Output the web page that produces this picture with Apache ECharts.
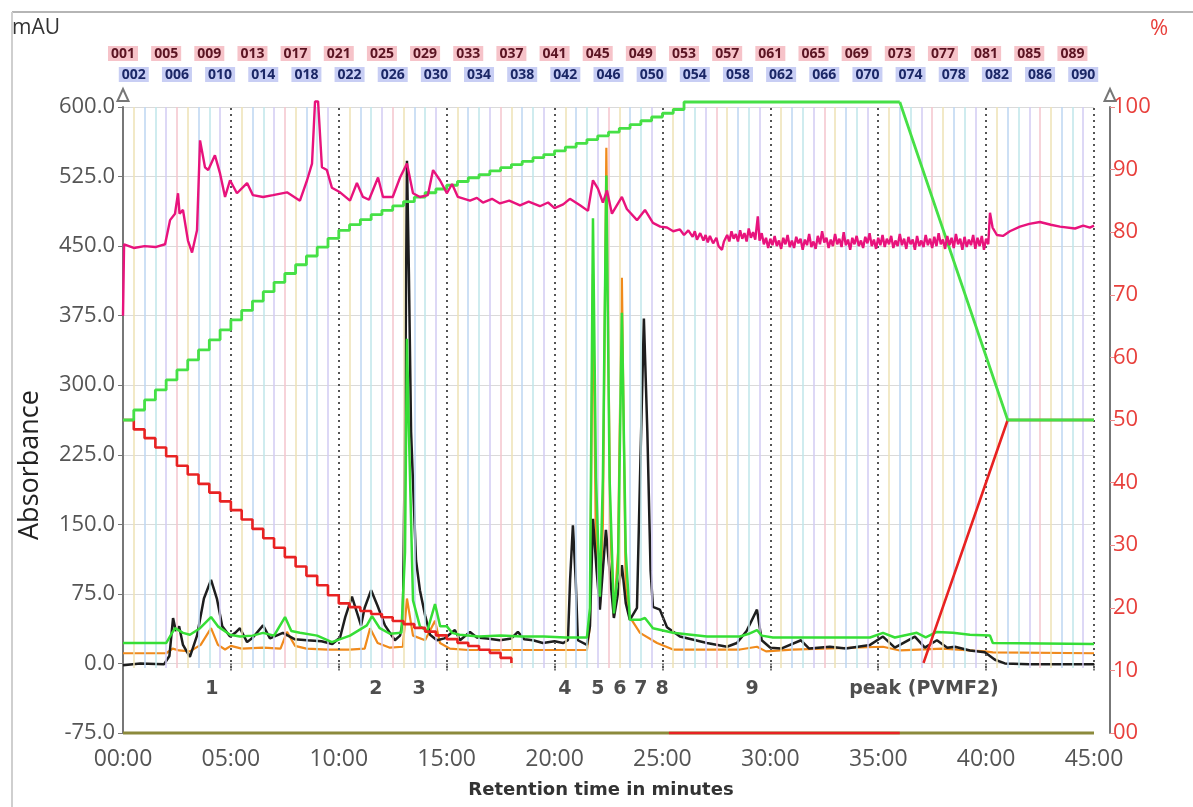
<!DOCTYPE html>
<html>
<head>
<meta charset="utf-8">
<title>Chromatogram</title>
<script src="https://cdn.jsdelivr.net/npm/echarts@6/dist/echarts.min.js"></script>
<style>
  html, body { margin: 0; padding: 0; background: #fff; }
  #chart { width: 1193px; height: 807px; }
</style>
</head>
<body>
<div id="chart"></div>
<script>
// --- data (time in minutes, absorbance in mAU, gradient in %) ---
const timeTicks = [0, 5, 10, 15, 20, 25, 30, 35, 40, 45];
const FRACTION_COUNT = 90;
const FRACTION_WIDTH = 0.5;
const fractionLineColors = ['#f4c4cc', '#eee2b4', '#bdd6f2', '#bfe6ea', '#d2cbf3'];

const blackTrace = [[0,-2],[0.8,0],[1.9,-1],[2.15,8],[2.32,49],[2.45,35],[2.6,40],[2.78,20],[3.1,7],[3.43,30],
  [3.75,70],[4.08,90],[4.35,70],[4.6,40],[4.96,29],[5.2,33],[5.42,38],[5.75,23],[6.02,28],[6.49,41],[6.81,27],
  [7.41,33],[7.97,26],[8.53,25],[9.2,24],[9.7,21],[10.06,28],[10.3,50],[10.61,72],[10.84,55],[11.03,41],[11.2,60],
  [11.5,79],[11.8,62],[12.14,41],[12.6,25],[12.84,30],[12.97,45],[13.07,250],[13.16,542],[13.25,420],[13.35,250],
  [13.58,111],[13.76,79],[14.0,52],[14.23,31],[14.55,25],[14.9,27],[15.38,36],[15.62,25],[16.08,34],[16.4,28],
  [16.87,27],[17.47,25],[18.0,27],[18.3,34],[18.6,26],[19.0,25],[19.46,22],[20.0,24],[20.39,22],[20.62,25],
  [20.72,90],[20.85,149],[20.98,90],[21.08,25],[21.5,20],[21.64,40],[21.78,156],[21.95,100],[22.1,58],[22.38,144],
  [22.55,100],[22.75,49],[22.9,70],[23.12,106],[23.3,65],[23.49,47],[23.82,60],[23.96,200],[24.14,372],[24.3,250],
  [24.45,100],[24.56,61],[24.88,58],[25.21,39],[25.81,29],[27.06,22],[27.99,18],[28.45,22],[28.9,35],[29.38,58],
  [29.5,40],[29.6,25],[30.0,17],[30.5,16],[31.42,25],[31.8,16],[32.76,18],[33.5,16],[34.62,20],[35.22,29],
  [35.77,17],[36.7,29],[37.16,17],[37.72,25],[38.2,17],[38.55,18],[39.25,14],[39.94,12],[40.41,4],[40.87,0],
  [42,-1],[45,-1]];

const greenTrace = [[0,22],[2.0,22],[2.2,30],[2.41,38],[2.78,33],[3.1,31],[3.57,38],[4.08,50],[4.4,40],[4.96,31],
  [5.42,29],[6.0,30],[6.49,33],[7.0,30],[7.51,50],[7.8,35],[8.2,33],[9.0,30],[9.68,23],[10.52,30],[11.3,41],
  [11.54,51],[11.9,38],[12.37,32],[12.9,33],[13.07,120],[13.16,350],[13.25,250],[13.44,68],[13.76,40],[14.1,35],
  [14.46,64],[14.7,40],[15.01,40],[15.25,33],[15.6,31],[16.5,29],[17.5,30],[18.5,29],[19.5,29],[20.5,28],[21.5,28],
  [21.64,60],[21.78,480],[21.92,200],[22.1,72],[22.24,200],[22.4,526],[22.55,200],[22.75,54],[22.94,100],[23.12,378],
  [23.3,120],[23.49,47],[23.96,47],[24.19,49],[24.56,38],[25.49,33],[27.06,29],[28.59,29],[29.0,32],[29.38,36],
  [29.6,30],[30.12,28],[34.62,28],[35.22,33],[35.77,28],[36.79,33],[37.2,28],[37.72,34],[38.46,33],[39.25,31],
  [40.18,30],[40.31,22],[45,21]];

const orangeTrace = [[0,11],[2.0,11],[2.3,16],[2.6,14],[3.1,13],[3.6,20],[4.08,38],[4.4,20],[4.73,15],[5.0,19],
  [5.5,16],[6.5,17],[7.3,16],[7.6,34],[7.97,19],[8.5,16],[9.5,15],[10.5,15],[11.2,16],[11.45,38],[11.8,22],
  [12.37,17],[12.97,18],[13.16,70],[13.44,30],[14.0,25],[14.46,46],[14.69,22],[15.15,16],[16,14.5],[21.5,14.5],
  [21.64,40],[21.78,420],[21.92,120],[22.1,60],[22.24,150],[22.4,556],[22.58,150],[22.75,50],[22.94,120],[23.12,416],
  [23.3,80],[23.49,50],[23.96,33],[24.75,22],[25.49,15],[28.59,15],[29.38,18],[29.8,13],[31,15],[35.22,18],[36,14],
  [38,16],[39.94,13],[40.31,12],[45,11]];

const pinkTrace = [[0,375],[0.05,452],[0.5,448],[1.0,450],[1.5,449],[1.95,452],[2.18,478],[2.41,485],[2.55,507],
  [2.62,485],[2.78,489],[3.01,456],[3.2,443],[3.43,467],[3.57,564],[3.8,535],[3.95,532],[4.26,548],[4.49,529],
  [4.73,503],[4.96,521],[5.28,507],[5.75,518],[6.02,505],[6.49,503],[6.95,505],[7.6,508],[8.2,499],[8.53,521],
  [8.76,539],[8.9,606],[9.04,606],[9.22,535],[9.45,532],[9.68,513],[10.06,508],[10.52,499],[10.84,518],[11.12,503],
  [11.4,500],[11.82,524],[12.05,503],[12.5,503],[12.84,524],[13.16,539],[13.44,507],[13.76,503],[14.13,505],
  [14.37,532],[14.69,521],[15.01,507],[15.25,517],[15.52,503],[16.08,499],[16.4,502],[16.68,497],[17.1,501],
  [17.47,496],[17.9,499],[18.4,494],[18.8,498],[19.32,493],[19.7,497],[20.0,491],[20.4,495],[20.71,501],[21.18,494],
  [21.55,488],[21.78,521],[22.01,512],[22.24,497],[22.43,510],[22.66,485],[23.12,503],[23.35,490],[23.82,478],
  [24.19,489],[24.56,475],[24.9,471],[25.21,470],[25.5,466],[25.81,468],[26.0,462],[26.2,467],[26.4,460],[26.5,466],
  [26.6,457],[26.75,464],[26.9,456],[27.0,462],[27.1,454],[27.2,461],[27.35,453],[27.5,459],[27.6,450],[27.76,446],
  [27.85,455],[28.0,462],[28.1,455],[28.2,466],[28.3,458],[28.4,463],[28.5,455],[28.6,467],[28.7,458],[28.8,464],
  [28.9,455],[29.0,469],[29.1,459],[29.2,465],[29.3,457],[29.42,482],[29.5,456],[29.6,464],[29.7,452],[29.8,459],
  [29.9,448],[30.0,458],[30.1,451],[30.2,461],[30.3,450],[30.4,456],[30.5,447],[30.6,459],[30.7,452],[30.8,462],
  [30.9,449],[31.0,456],[31.1,448],[31.2,460],[31.3,453],[31.4,458],[31.5,446],[31.6,457],[31.7,451],[31.8,463],
  [31.9,449],[32.0,455],[32.1,447],[32.2,461],[32.3,452],[32.4,466],[32.5,454],[32.6,459],[32.7,448],[32.8,457],
  [32.9,450],[33.0,463],[33.1,452],[33.2,458],[33.3,449],[33.4,465],[33.5,451],[33.6,457],[33.7,446],[33.8,459],
  [33.9,452],[34.0,461],[34.1,450],[34.2,456],[34.3,448],[34.4,460],[34.5,453],[34.6,464],[34.7,450],[34.8,457],
  [34.9,447],[35.0,459],[35.1,451],[35.2,462],[35.3,449],[35.4,458],[35.5,452],[35.6,461],[35.7,448],[35.8,456],
  [35.9,450],[36.0,463],[36.1,451],[36.2,458],[36.3,447],[36.4,460],[36.5,452],[36.6,457],[36.7,446],[36.8,461],
  [36.9,450],[37.0,456],[37.1,449],[37.2,462],[37.3,451],[37.4,458],[37.5,448],[37.6,460],[37.7,450],[37.8,464],
  [37.9,452],[38.0,457],[38.1,447],[38.2,461],[38.3,451],[38.4,459],[38.5,448],[38.6,463],[38.7,452],[38.8,458],
  [38.9,446],[39.0,460],[39.1,449],[39.2,457],[39.3,451],[39.4,462],[39.5,447],[39.6,459],[39.7,450],[39.8,461],
  [39.9,446],[40.0,458],[40.1,452],[40.18,486],[40.3,470],[40.5,462],[40.78,461],[41.1,466],[41.57,471],[42.0,474],
  [42.49,476],[43.0,473],[43.42,471],[44.12,469],[44.5,472],[44.81,470],[45,472]];

// gradient %B (green) and %A (red), stepped per fraction, then linear wash
const gradientB = [[0,50],[0.5,51.6],[1,53.2],[1.5,54.8],[2,56.4],[2.5,58],[3,59.6],[3.5,61.2],[4,62.8],[4.5,64.4],
  [5,66],[5.5,67.5],[6,69],[6.5,70.5],[7,72],[7.5,73.4],[8,74.8],[8.5,76.2],[9,77.6],[9.5,79],[10,80.3],[10.5,81.2],
  [11,82],[11.5,82.8],[12,83.5],[12.5,84.2],[13,84.9],[13.5,85.6],[14,86.3],[14.5,86.9],[15,87.5],[15.5,88.1],
  [16,88.7],[16.5,89.2],[17,89.8],[17.5,90.3],[18,90.8],[18.5,91.3],[19,91.9],[19.5,92.4],[20,93],[20.5,93.6],
  [21,94.2],[21.5,94.8],[22,95.4],[22.5,96],[23,96.6],[23.5,97.2],[24,97.8],[24.5,98.4],[25,99],[25.5,99.6],
  [26,100.8],[36,100.8]];
const gradientBRamp = [[36,100.8],[41,50],[45,50]];
const gradientA = [[0,50],[0.5,48.5],[1,47.1],[1.5,45.6],[2,44.2],[2.5,42.7],[3,41.3],[3.5,39.8],[4,38.4],[4.5,37],
  [5,35.6],[5.5,34.1],[6,32.6],[6.5,31.1],[7,29.6],[7.5,28.1],[8,26.6],[8.5,25.1],[9,23.6],[9.5,22],[10,20.7],
  [10.5,20.1],[11,19.5],[11.5,19],[12,18.5],[12.5,17.9],[13,17.4],[13.5,16.8],[14,16.2],[14.5,15.6],[15,15],
  [15.5,14.4],[16,13.9],[16.5,13.3],[17,12.8],[17.5,12],[18,11.2],null,[25.3,0],[36,0]];
const gradientARamp = [[37.1,11.2],[41,50],[45,50]];
const baselineTrace = [[0,-75],[45,-75]];

const peakLabels = [['1',4.12],['2',11.72],['3',13.72],['4',20.48],['5',22.01],['6',23.03],['7',24.0],['8',24.98],
  ['9',29.15],['peak (PVMF2)',37.12]];
const PEAK_LABEL_Y = -28;

// --- helpers ---
const FONT = "'Open Sans', 'Noto Sans', sans-serif";
const BOLD_FONT = "'DejaVu Sans', Verdana, sans-serif";
function mmss(v) { return (v < 10 ? '0' : '') + v + ':00'; }
function pad3(n) { return String(n).padStart(3, '0'); }

const fractionNames = [];
const fractionBounds = [];
for (let i = 0; i <= FRACTION_COUNT; i++) {
  fractionNames.push(i < FRACTION_COUNT ? pad3(i + 1) : '');
  fractionBounds.push(i * FRACTION_WIDTH);
}

// coloured fraction borders + dotted 5 min lines
const fractionLines = [];
fractionBounds.forEach(function (t, i) {
  if (t === 0 || t % 5 === 0) return;
  fractionLines.push([
    { coord: [t, -5], lineStyle: { color: fractionLineColors[i % fractionLineColors.length], width: 1.5, type: 'solid' } },
    { coord: [t, 600] }
  ]);
});
timeTicks.slice(1).forEach(function (t) {
  fractionLines.push([
    { coord: [t, -5], lineStyle: { color: '#555', width: 2, type: [2, 4] } },
    { coord: [t, 600] }
  ]);
});

function trace(name, data, color, width, z, yAxisIndex, step) {
  return {
    name: name, type: 'line', data: data, yAxisIndex: yAxisIndex || 0, z: z,
    showSymbol: false, step: step || false, connectNulls: false, silent: true, clip: false,
    lineStyle: { color: color, width: width }, itemStyle: { color: color }
  };
}

const fractionLabel = function (bg, fg, margin, pick) {
  return {
    type: 'category', data: fractionNames, boundaryGap: false, position: 'top',
    axisLine: { show: false }, axisTick: { show: false }, splitLine: { show: false },
    axisLabel: {
      interval: function (i) { return i % 4 === pick; },
      margin: margin, fontSize: 14, fontWeight: 'bold', color: fg, backgroundColor: bg,
      padding: [1, 3, 0, 3], fontFamily: FONT
    }
  };
};

const chart = echarts.init(document.getElementById('chart'));
chart.setOption({
  animation: false,
  backgroundColor: '#fff',
  grid: { left: 123, right: 99, top: 107, bottom: 74 },
  xAxis: [
    {
      type: 'value', min: 0, max: 45, interval: 5, position: 'bottom',
      axisLine: { show: false },
      axisTick: { show: true, length: 9, lineStyle: { color: '#777', width: 2, type: [2, 3] } },
      axisLabel: { formatter: mmss, color: '#555', fontSize: 23, margin: 15, fontFamily: FONT },
      splitLine: { show: false }
    },
    fractionLabel('#f6c3c9', '#5b1422', 46, 0),
    fractionLabel('#c8cef4', '#1b2766', 25, 1)
  ],
  yAxis: [
    {
      type: 'value', min: -75, max: 600, interval: 75, position: 'left',
      axisLine: { show: true, lineStyle: { color: '#777', width: 2 }, symbol: ['none', 'emptyTriangle'], symbolSize: [11, 12], symbolOffset: [0, 12] },
      axisTick: { show: true, length: 5, lineStyle: { color: '#777' } },
      axisLabel: { formatter: function (v) { return v.toFixed(1); }, color: '#555', fontSize: 22, margin: 8, fontFamily: FONT },
      splitLine: { show: true, lineStyle: { color: '#dadada', width: 1 } }
    },
    {
      type: 'value', min: 0, max: 100, interval: 10, position: 'right', offset: 16,
      axisLine: { show: true, lineStyle: { color: '#777', width: 2 }, symbol: ['none', 'emptyTriangle'], symbolSize: [11, 12], symbolOffset: [0, 12] },
      axisTick: { show: true, length: 5, lineStyle: { color: '#e88' } },
      axisLabel: { formatter: function (v) { return v === 0 ? '00' : String(v); }, color: '#e8403c', fontSize: 22, margin: 3, fontFamily: FONT },
      splitLine: { show: false }
    }
  ],
  series: [
    {
      name: 'fractions', type: 'line', data: [], z: 1, silent: true,
      markLine: { symbol: 'none', silent: true, animation: false, label: { show: false }, data: fractionLines }
    },
    trace('olive', baselineTrace, '#8c8a3c', 3, 2),
    trace('280 nm', orangeTrace, '#f08a1c', 2.2, 3),
    trace('254 nm', blackTrace, '#1e1e1e', 2.5, 4),
    trace('215 nm', greenTrace, '#36de36', 2.5, 5),
    trace('%A', gradientA, '#e82222', 2.6, 6, 1, 'end'),
    trace('%A wash', gradientARamp, '#e82222', 2.6, 6, 1),
    trace('%B', gradientB, '#46e046', 2.8, 6, 1, 'end'),
    trace('%B wash', gradientBRamp, '#46e046', 2.8, 6, 1),
    trace('conductivity', pinkTrace, '#e8137c', 2.4, 7),
    {
      name: 'peaks', type: 'scatter', z: 9, silent: true, symbolSize: 0,
      data: peakLabels.map(function (p) { return { name: p[0], value: [p[1], PEAK_LABEL_Y] }; }),
      label: { show: true, position: 'inside', formatter: '{b}', color: '#222', fontSize: 19, fontWeight: 'bold', fontFamily: BOLD_FONT }
    }
  ],
  graphic: [
    { type: 'line', shape: { x1: 12, y1: 12, x2: 1193, y2: 12 }, style: { stroke: '#b5b5b5', lineWidth: 2 }, silent: true },
    { type: 'line', shape: { x1: 12, y1: 12, x2: 12, y2: 807 }, style: { stroke: '#cfcfcf', lineWidth: 2 }, silent: true },
    { type: 'text', left: 12, top: 18, style: { text: 'mAU', fill: '#333', font: '21px ' + FONT } },
    { type: 'text', left: 1150, top: 18, style: { text: '%', fill: '#e8403c', font: '22px ' + FONT } },
    { type: 'text', x: 30, y: 465, rotation: Math.PI / 2, style: { text: 'Absorbance', fill: '#222', font: '27px ' + FONT, textAlign: 'center', textVerticalAlign: 'middle' } },
    { type: 'text', x: 601, y: 790, style: { text: 'Retention time in minutes', fill: '#333', font: 'bold 18px ' + BOLD_FONT, textAlign: 'center', textVerticalAlign: 'middle' } }
  ]
});
</script>
</body>
</html>
